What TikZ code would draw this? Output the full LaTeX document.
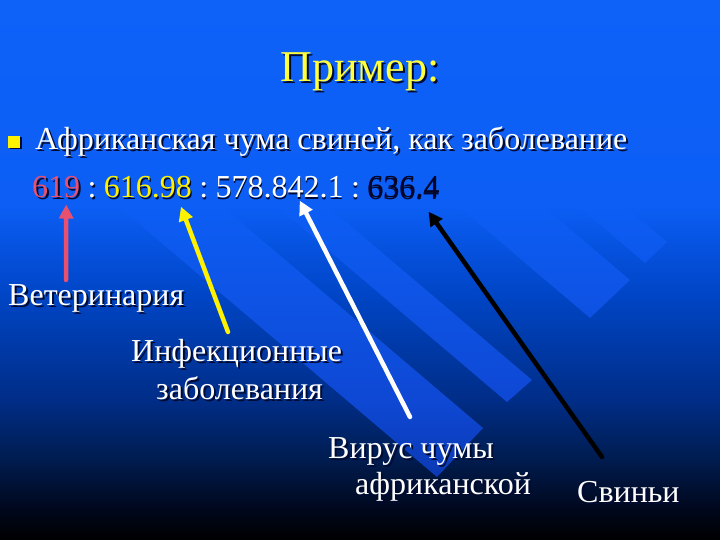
\documentclass[tikz,border=0pt]{standalone}
\usepackage{fontspec}
\setmainfont{Liberation Serif}
\usetikzlibrary{positioning,arrows.meta,shadows}
\definecolor{bgtop}{RGB}{14,98,248}
\definecolor{bgA}{RGB}{12,94,245}
\definecolor{bgB}{RGB}{0,70,200}
\definecolor{bgC}{RGB}{0,45,135}
\definecolor{bgD}{RGB}{0,30,85}
\definecolor{bgE}{RGB}{0,8,30}
\definecolor{bandB}{RGB}{14,84,230}
\definecolor{bandC}{RGB}{14,72,212}
\definecolor{bandD}{RGB}{12,62,190}
\definecolor{bandE}{RGB}{10,45,150}
\definecolor{pinkc}{RGB}{232,80,112}
\definecolor{titley}{RGB}{255,255,60}
\definecolor{navyc}{RGB}{5,5,40}
\definecolor{shadowc}{RGB}{0,10,50}
\pgfdeclareverticalshading{slidebg}{100bp}{color(0bp)=(black); color(25bp)=(black);
  color(28bp)=(bgE); color(33bp)=(bgD); color(38bp)=(bgC); color(48bp)=(bgB);
  color(56bp)=(bgA); color(75bp)=(bgtop); color(100bp)=(bgtop)}
\pgfdeclareverticalshading{bandbg}{100bp}{color(0bp)=(bandE); color(25bp)=(bandE);
  color(33bp)=(bandD); color(38bp)=(bandC); color(48bp)=(bandB);
  color(56bp)=(bgA); color(75bp)=(bgtop); color(100bp)=(bgtop)}
\newcommand{\shtext}[4]{%
  \node[shd,xshift=2pt,yshift=-2pt] at #2 {#4};
  \node (#1) [txt,text=#3] at #2 {#4};}
\newcommand{\colsep}{\hskip0.22em:\hskip0.22em\null}

\begin{document}
\begin{tikzpicture}[x=1pt,y=-1pt,
  txt/.style={inner sep=0pt,anchor=base west,font=\fontsize{32}{38}\selectfont,text=white},
  shd/.style={txt,text=shadowc},
  arr/.style={line width=4.5pt,line cap=round,-{Triangle[width=14pt,length=14pt]}}]
\useasboundingbox (0,0) rectangle (720,540);
\shade[shading=slidebg] (0,0) rectangle (720,540);

% diagonal stripes, same shading box as the background
\begin{scope}
  \clip \foreach \rx/\ry/\lx/\ly in {667/242/645/263, 630/280/590/318, 532/380/507/402, 483/428/437/477}
    {(\rx,\ry) -- (\lx,\ly) -- (\lx-600,\ly-510) -- (\rx-600,\ry-510) -- cycle};
  \shade[shading=bandbg] (0,0) rectangle (720,540);
\end{scope}

% title and bullet
\node[shd,anchor=base,font=\fontsize{44}{52}\selectfont,xshift=2pt,yshift=-2pt] at (360,82) {Пример:};
\node (title) [txt,anchor=base,font=\fontsize{44}{52}\selectfont,text=titley] at (360,82) {Пример:};
\node (bul) at (14,142) [fill=yellow,minimum size=12pt,inner sep=0pt,
  drop shadow={shadow xshift=1.5pt,shadow yshift=-1.5pt,fill=shadowc,opacity=1}] {};
\shtext{item}{(35,150)}{white}{Африканская чума свиней, как заболевание}

% numbers
\node[shd,xshift=2pt,yshift=-2pt] at (32,198) {619\colsep616.98\colsep578.842.1\colsep636.4};
\node (n619) [txt,text=pinkc] at (32,198) {619};
\node (c1) [txt,base right=0pt of n619] {\colsep};
\node (n616) [txt,text=yellow,base right=0pt of c1] {616.98};
\node (c2) [txt,base right=0pt of n616] {\colsep};
\node (n578) [txt,base right=0pt of c2] {578.842.1};
\node (c3) [txt,base right=0pt of n578] {\colsep};
\node (n636) [txt,text=navyc,base right=0pt of c3] {636.4};

% labels
\shtext{vet}{(8,305)}{white}{Ветеринария}
\shtext{inf}{(131,361)}{white}{Инфекционные}
\shtext{inf2}{(156,399)}{white}{заболевания}
\shtext{vir}{(328,458)}{white}{Вирус чумы}
\shtext{vir2}{(355,494)}{white}{африканской}
\shtext{svi}{(577,502)}{white}{Свиньи}

% arrows
\coordinate (vetTail) at (66,280);
\coordinate (infTail) at (228,332);
\coordinate (virTail) at (410,417);
\coordinate (sviTail) at (602,457);
\draw[arr,pinkc] (vetTail) -- ([shift={(10,6)}]n619.south);
\draw[arr,yellow] (infTail) -- ([shift={(33,8)}]n616.south);
\draw[arr,white] (virTail) -- ([shift={(20,2)}]n578.south);
\draw[arr,black] (sviTail) -- ([shift={(25,13)}]n636.south);

\end{tikzpicture}
\end{document}
